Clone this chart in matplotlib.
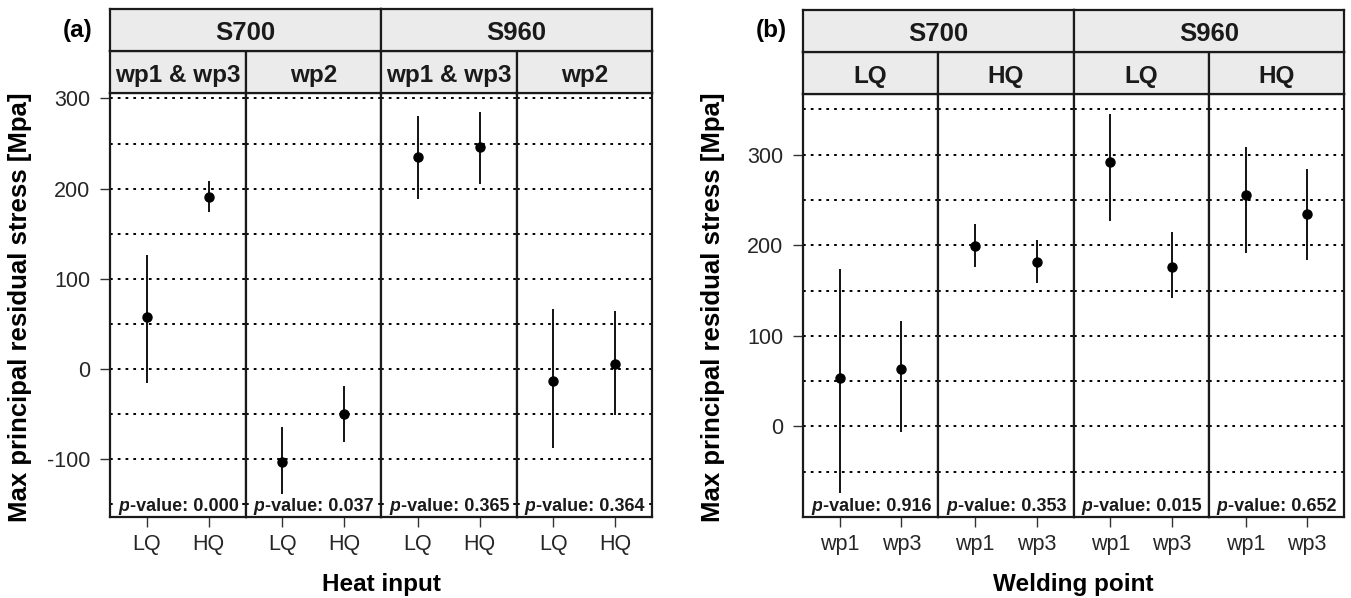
import matplotlib
matplotlib.use('Agg')
import matplotlib.pyplot as plt

plt.rcParams['font.family'] = ['Liberation Sans', 'DejaVu Sans']

# ---------------- Panel (a) data ----------------
a_steels = ['S700', 'S960']
a_facets = ['wp1 & wp3', 'wp2']
a_xcats = ['LQ', 'HQ']
a_mean = [[58, 191], [-103, -50], [235, 246], [-13, 6]]
a_low = [[-15, 174], [-138, -81], [189, 205], [-88, -51]]
a_high = [[126, 209], [-64, -19], [280, 285], [67, 64]]
a_pvals = ['0.000', '0.037', '0.365', '0.364']
a_yticks = [-100, 0, 100, 200, 300]
a_grid = [-150, -100, -50, 0, 50, 100, 150, 200, 250, 300]
a_ylim = (-164, 306)

# ---------------- Panel (b) data ----------------
b_steels = ['S700', 'S960']
b_facets = ['LQ', 'HQ']
b_xcats = ['wp1', 'wp3']
b_mean = [[54, 63], [199, 181], [292, 176], [255, 235]]
b_low = [[-74, -6], [176, 158], [227, 142], [192, 184]]
b_high = [[174, 116], [224, 206], [345, 215], [309, 284]]
b_pvals = ['0.916', '0.353', '0.015', '0.652']
b_yticks = [0, 100, 200, 300]
b_grid = [-50, 0, 50, 100, 150, 200, 250, 300, 350]
b_ylim = (-100, 367)

W, H = 1351, 598
fig = plt.figure(figsize=(W / 100, H / 100), dpi=100)

STRIP_FC = '#EBEBEB'
BORDER_LW = 1.6


def fx(px):
    return px / W


def fy(py):
    return 1 - py / H


def draw_panel(left, right, top, bottom, steels, facets, xcats, mean, low, high,
               pvals, yticks, grid, ylim, tag, xlabel):
    n = len(steels) * len(facets)
    fw = (right - left) / n
    strip_h = 42
    for i in range(n):
        x0 = left + i * fw
        ax = fig.add_axes([fx(x0), fy(bottom), fw / W, (bottom - top) / H])
        xs = [1, 2]
        for g in grid:
            ax.axhline(g, color='black', lw=1.4, ls=(0, (1.4, 2.6)), zorder=1)
        for x, m, lo, hi in zip(xs, mean[i], low[i], high[i]):
            ax.vlines(x, lo, hi, color='black', lw=1.3, zorder=3)
        ax.plot(xs, mean[i], 'o', color='black', ms=6.5, zorder=4)
        ax.set_xlim(0.4, 2.6)
        ax.set_ylim(*ylim)
        ax.set_xticks(xs)
        ax.set_xticklabels(xcats, fontsize=15.5, color='#262626')
        ax.tick_params(axis='x', length=7, width=1.0, color='#333333', pad=5)
        if i == 0:
            ax.set_yticks(yticks)
            ax.set_yticklabels([str(t) for t in yticks], fontsize=15.5, color='#262626')
            ax.tick_params(axis='y', length=7, width=1.0, color='#333333', pad=7)
        else:
            ax.set_yticks([])
        for s in ax.spines.values():
            s.set_linewidth(BORDER_LW)
            s.set_color('#1a1a1a')
            s.set_zorder(6)
        ax.set_facecolor('white')
        # p-value annotation
        t1 = ax.annotate('p', xy=(0.5, 0), xycoords='axes fraction',
                         xytext=(-43, 1.5), textcoords='offset points',
                         fontsize=13, fontweight='bold', fontstyle='italic',
                         ha='left', va='bottom', zorder=5, color='#1a1a1a',
                         bbox=dict(fc='white', ec='none', pad=0.6))
        ax.annotate('-value: ' + pvals[i], xy=(1, 0), xycoords=t1,
                    xytext=(0.5, 0), textcoords='offset points',
                    fontsize=13, fontweight='bold', ha='left', va='bottom',
                    zorder=5, color='#1a1a1a',
                    bbox=dict(fc='white', ec='none', pad=0.6))
        # sub strip
        sax = fig.add_axes([fx(x0), fy(top), fw / W, strip_h / H])
        sax.set_facecolor(STRIP_FC)
        sax.set_xticks([]); sax.set_yticks([])
        for s in sax.spines.values():
            s.set_linewidth(BORDER_LW)
            s.set_color('#1a1a1a')
        sax.text(0.5, 0.42, facets[i % len(facets)], ha='center', va='center',
                 fontsize=17.5, fontweight='bold', color='#1a1a1a',
                 transform=sax.transAxes)
    # top strips
    for j, st in enumerate(steels):
        x0 = left + j * len(facets) * fw
        tax = fig.add_axes([fx(x0), fy(top - strip_h), len(facets) * fw / W, strip_h / H])
        tax.set_facecolor(STRIP_FC)
        tax.set_xticks([]); tax.set_yticks([])
        for s in tax.spines.values():
            s.set_linewidth(BORDER_LW)
            s.set_color('#1a1a1a')
        tax.text(0.5, 0.42, st, ha='center', va='center', fontsize=18.5,
                 fontweight='bold', color='#1a1a1a', transform=tax.transAxes)
    # labels
    fig.text(fx(left - 32), fy(top - strip_h - 21), tag, ha='center', va='center',
             fontsize=17.5, fontweight='bold')
    fig.text(fx((left + right) / 2), fy(585), xlabel, ha='center', va='center',
             fontsize=17.5, fontweight='bold')
    fig.text(fx(left - 90), fy((top + bottom) / 2 + 2),
             'Max principal residual stress [Mpa]', rotation=90,
             ha='center', va='center', fontsize=18.5, fontweight='bold')


draw_panel(110, 652, 93, 517, a_steels, a_facets, a_xcats, a_mean, a_low, a_high,
           a_pvals, a_yticks, a_grid, a_ylim, '(a)', 'Heat input')
draw_panel(803, 1344, 94, 517, b_steels, b_facets, b_xcats, b_mean, b_low, b_high,
           b_pvals, b_yticks, b_grid, b_ylim, '(b)', 'Welding point')

fig.savefig('out.png', dpi=100)
